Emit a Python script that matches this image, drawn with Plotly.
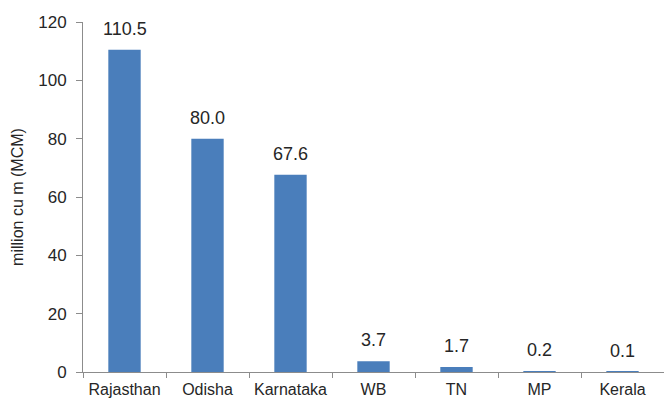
import plotly.graph_objects as go

states = ["Rajasthan", "Odisha", "Karnataka", "WB", "TN", "MP", "Kerala"]
volumes = [110.5, 80.0, 67.6, 3.7, 1.7, 0.2, 0.1]
y_ticks = [0, 20, 40, 60, 80, 100, 120]

bar_color = "#4a7ebb"
axis_color = "#8c8c8c"
text_color = "#262626"
font_family = "Liberation Sans, Arial, sans-serif"

fig = go.Figure(
    go.Bar(
        x=states,
        y=volumes,
        width=0.39,
        marker=dict(color=bar_color, line=dict(width=0)),
    )
)

# value labels above each bar
for s, v in zip(states, volumes):
    fig.add_annotation(
        x=s, y=v, text=f"{v:.1f}", showarrow=False,
        yanchor="bottom", yshift=9,
        font=dict(family=font_family, size=18, color=text_color),
    )

fig.update_layout(
    width=664, height=399,
    margin=dict(l=83, r=0, t=22, b=27),
    paper_bgcolor="white", plot_bgcolor="white",
    showlegend=False,
    font=dict(family=font_family, size=16, color=text_color),
)
fig.update_xaxes(
    type="category",
    showline=True, linecolor=axis_color, linewidth=1,
    ticks="outside", tickson="boundaries", ticklen=5, tickcolor=axis_color,
    showgrid=False,
    tickfont=dict(size=16),
    ticklabelstandoff=3,
)
fig.update_yaxes(
    range=[0, 120], tickvals=y_ticks,
    showline=True, linecolor=axis_color, linewidth=1,
    ticks="outside", ticklen=6, tickcolor=axis_color,
    showgrid=False, zeroline=False,
    tickfont=dict(size=17),
    ticklabelstandoff=6,
    title=dict(text="million cu m (MCM)", font=dict(size=16), standoff=10),
)

fig.write_html("out.html")
